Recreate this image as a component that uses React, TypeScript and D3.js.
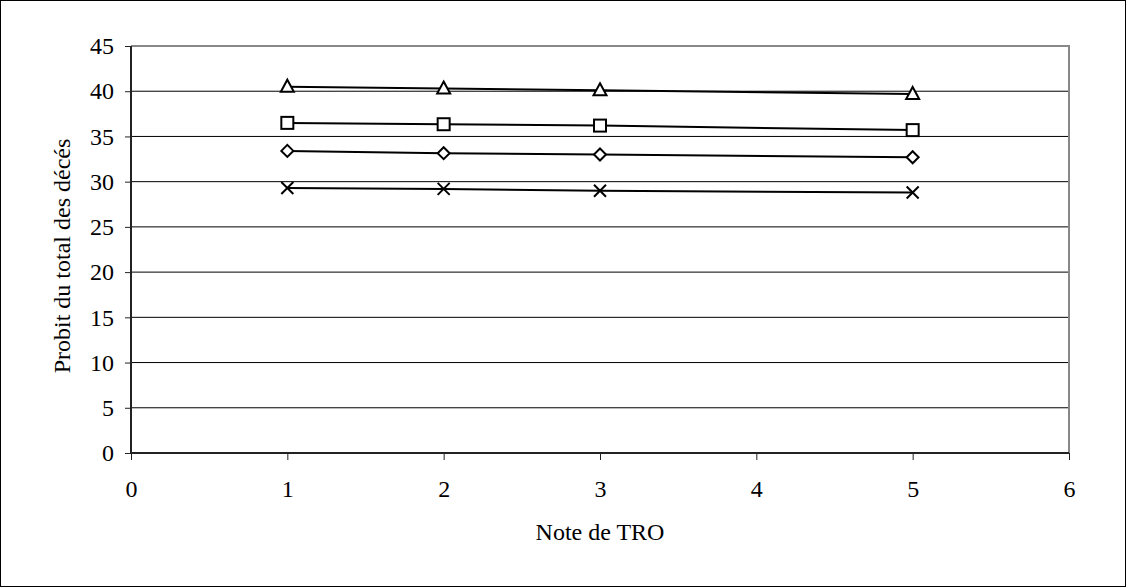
import React, { useEffect, useRef } from 'react';
import * as d3 from 'd3';

const notes = [1, 2, 3, 5];
const triangleSeries = [40.5, 40.3, 40.1, 39.7];
const squareSeries = [36.5, 36.35, 36.2, 35.7];
const diamondSeries = [33.4, 33.15, 33.0, 32.7];
const crossSeries = [29.3, 29.2, 29.0, 28.8];
const yTicks = [0, 5, 10, 15, 20, 25, 30, 35, 40, 45];
const xTicks = [0, 1, 2, 3, 4, 5, 6];

const App = () => {
  const svgRef = useRef(null);

  useEffect(() => {
    const width = 1126;
    const height = 587;
    const svg = d3.select(svgRef.current);
    svg.selectAll('*').remove();
    svg.attr('width', width).attr('height', height);

    const font = '"Liberation Serif", "Times New Roman", serif';
    const fontSize = 24;
    const left = 131, right = 1069, top = 46, bottom = 453;

    const x = d3.scaleLinear().domain([0, 6]).range([left, right]);
    const y = d3.scaleLinear().domain([0, 45]).range([bottom, top]);

    svg.append('rect')
      .attr('x', 0.5).attr('y', 0.5)
      .attr('width', width - 1).attr('height', height - 1)
      .attr('fill', 'white').attr('stroke', 'black');

    // gridlines
    svg.selectAll('.grid')
      .data(yTicks.filter(d => d > 0 && d < 45))
      .enter()
      .append('line')
      .attr('x1', left).attr('x2', right)
      .attr('y1', d => y(d)).attr('y2', d => y(d))
      .attr('stroke', 'black').attr('stroke-width', 1);

    // plot area border (gray top/right)
    svg.append('path')
      .attr('d', `M${left},${top}H${right}V${bottom}`)
      .attr('fill', 'none').attr('stroke', '#888').attr('stroke-width', 2);

    const yAxis = svg.append('g')
      .attr('transform', `translate(${left},0)`)
      .call(d3.axisLeft(y).tickValues(yTicks).tickFormat(d3.format('d')).tickSize(6).tickPadding(11));
    const xAxis = svg.append('g')
      .attr('transform', `translate(0,${bottom})`)
      .call(d3.axisBottom(x).tickValues(xTicks).tickFormat(d3.format('d')).tickSize(7).tickPadding(20));
    [yAxis, xAxis].forEach(g => {
      g.attr('font-family', font).attr('font-size', fontSize);
      g.select('.domain').attr('stroke', '#222').attr('stroke-width', 2);
      g.selectAll('.tick line').attr('stroke', '#222');
      g.selectAll('text').attr('fill', 'black');
    });
    yAxis.select('.domain').attr('d', `M0,${top}V${bottom}`);
    xAxis.select('.domain').attr('d', `M${left},0H${right}`);

    const line = d3.line<number>()
      .x((d, i) => x(notes[i]))
      .y(d => y(d));

    const series = [
      { values: triangleSeries, symbol: 'triangle' },
      { values: squareSeries, symbol: 'square' },
      { values: diamondSeries, symbol: 'diamond' },
      { values: crossSeries, symbol: 'cross' },
    ];

    series.forEach(s => {
      svg.append('path')
        .datum(s.values)
        .attr('d', line)
        .attr('fill', 'none').attr('stroke', 'black').attr('stroke-width', 2);

      const g = svg.selectAll(null)
        .data(s.values)
        .enter()
        .append('g')
        .attr('transform', (d, i) => `translate(${x(notes[i])},${y(d)})`);

      if (s.symbol === 'triangle') {
        g.append('path').attr('d', 'M0,-7L6.5,5H-6.5Z');
      } else if (s.symbol === 'square') {
        g.append('rect').attr('x', -6).attr('y', -6).attr('width', 12).attr('height', 12);
      } else if (s.symbol === 'diamond') {
        g.append('path').attr('d', 'M0,-6L6,0L0,6L-6,0Z');
      } else {
        g.append('path').attr('d', 'M-6,-6L6,6M6,-6L-6,6');
      }
      g.selectAll('*').attr('fill', 'white').attr('stroke', 'black').attr('stroke-width', 2);
    });

    svg.append('text')
      .attr('x', x(3)).attr('y', 540)
      .attr('text-anchor', 'middle')
      .attr('font-family', font).attr('font-size', fontSize)
      .text('Note de TRO');

    svg.append('text')
      .attr('transform', `translate(70,256) rotate(-90)`)
      .attr('text-anchor', 'middle')
      .attr('font-family', font).attr('font-size', fontSize)
      .text('Probit du total des décés');
  }, []);

  return <svg ref={svgRef} style={{ position: 'absolute', left: 0, top: 0 }}></svg>;
};

export default App;
